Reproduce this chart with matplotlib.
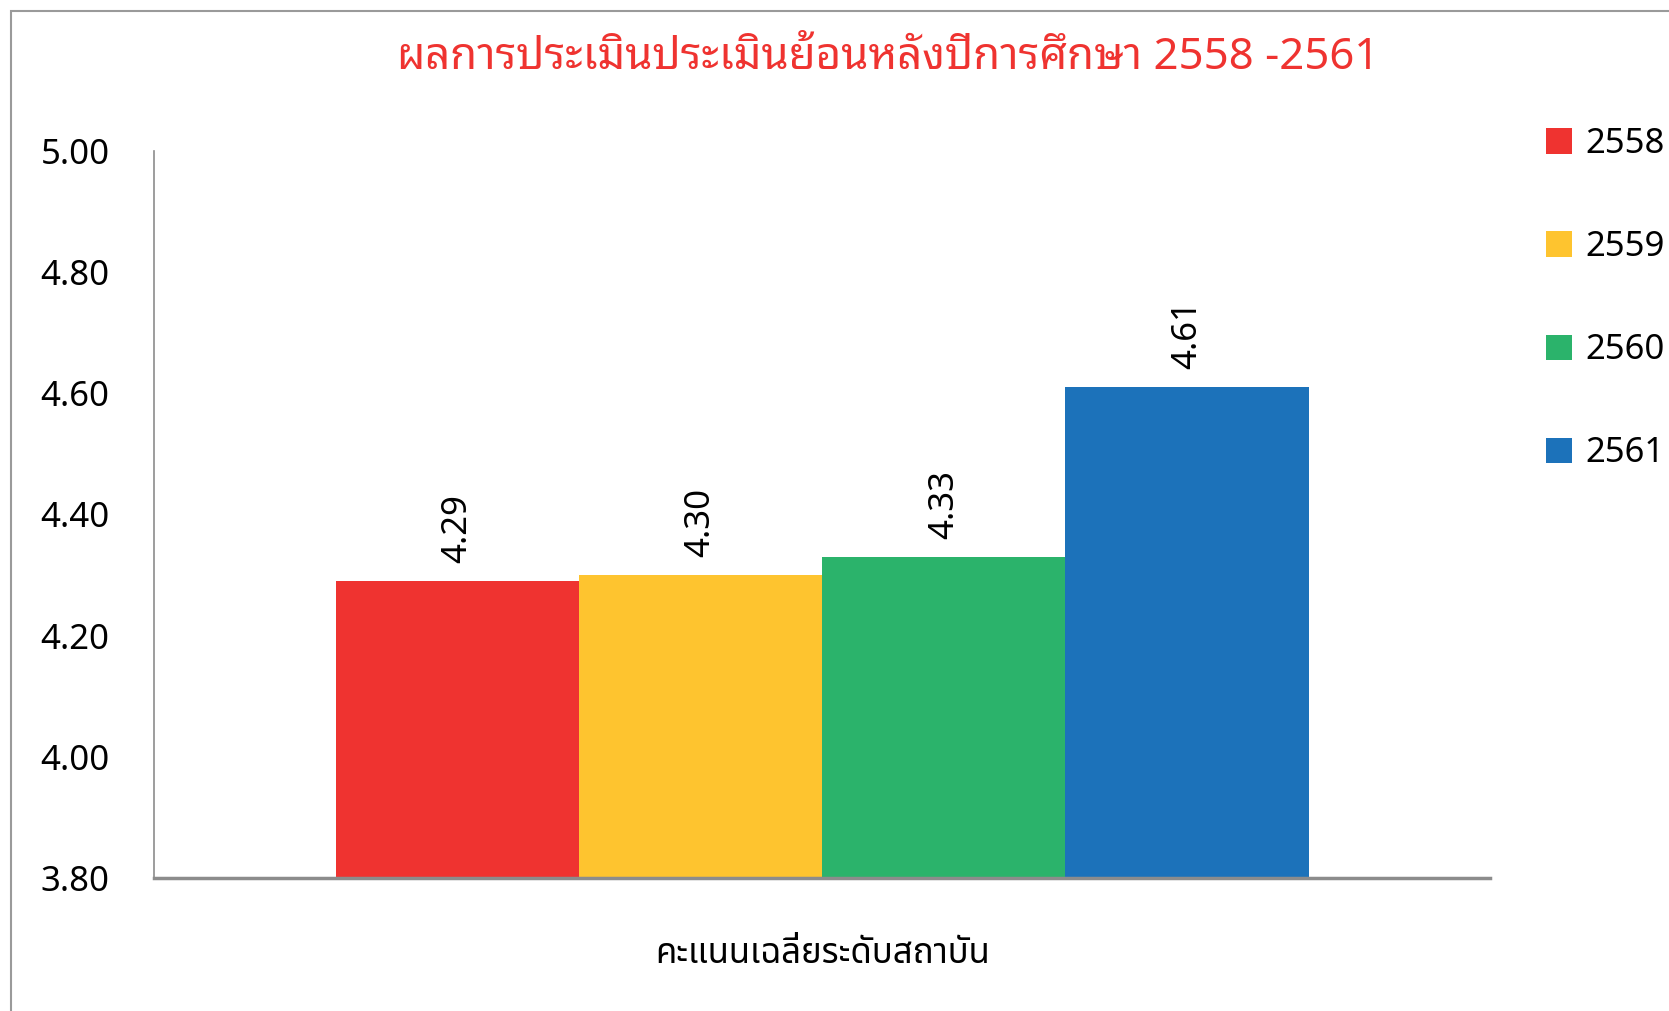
import numpy as np
import matplotlib
matplotlib.use("Agg")
import matplotlib.pyplot as plt
from matplotlib.patches import Rectangle

# data
category = "คะแนนเฉลี่ยระดับสถาบัน"
years = ["2558", "2559", "2560", "2561"]
scores = [4.29, 4.30, 4.33, 4.61]
colors = ["#EF3330", "#FEC42F", "#2BB36B", "#1C72BA"]
yticks = [3.80, 4.00, 4.20, 4.40, 4.60, 4.80, 5.00]
title = "ผลการประเมินประเมินย้อนหลังปีการศึกษา 2558 -2561"

plt.rcParams['font.family'] = ['Noto Sans Thai', 'DejaVu Sans']

fig = plt.figure(figsize=(16.69, 10.11), dpi=100)
ax = fig.add_axes([0.0923, 0.1316, 0.8007, 0.719])

# outer border of the chart area
fig.patches.append(Rectangle((0.0066, -0.1), 1.2, 1.089, transform=fig.transFigure,
                             fill=False, edgecolor="#9a9a9a", linewidth=1.5))

width = 0.182
x = np.arange(len(years)) * width - width * (len(years) - 1) / 2
for i in range(len(years)):
    ax.bar(x[i], scores[i] - yticks[0], width=width, bottom=yticks[0],
           color=colors[i], label=years[i])
    ax.text(x[i], scores[i] + 0.03, "%.2f" % scores[i], rotation=90,
            ha="center", va="bottom", fontsize=25, fontweight="light",
            family=['Noto Sans Thai', 'DejaVu Sans'])

ax.set_xlim(-0.5, 0.5)
ax.set_ylim(yticks[0], yticks[-1])
ax.set_yticks(yticks)
ax.set_yticklabels(["%.2f" % v for v in yticks], fontsize=25)
ax.set_xticks([])
ax.tick_params(axis="y", length=0, pad=32)

ax.spines["top"].set_visible(False)
ax.spines["right"].set_visible(False)
ax.spines["left"].set_color("#8c8c8c")
ax.spines["left"].set_linewidth(1.2)
ax.spines["bottom"].set_color("#8c8c8c")
ax.spines["bottom"].set_linewidth(2.5)

fig.text(0.4927, 0.056, category, ha="center", va="center", fontsize=25,
         family=['Noto Sans Thai', 'DejaVu Sans'])
fig.text(0.532, 0.943, title, ha="center", va="center", fontsize=31.5,
         color="#EF3330", family=['Noto Sans Thai Looped', 'DejaVu Sans'])

fig.legend(loc="upper left", bbox_to_anchor=(0.918, 0.888), frameon=False,
           fontsize=25, handlelength=0.74, handleheight=0.74,
           labelspacing=1.99, handletextpad=0.4, borderaxespad=0)

fig.savefig("out.png", dpi=100, facecolor="white")
